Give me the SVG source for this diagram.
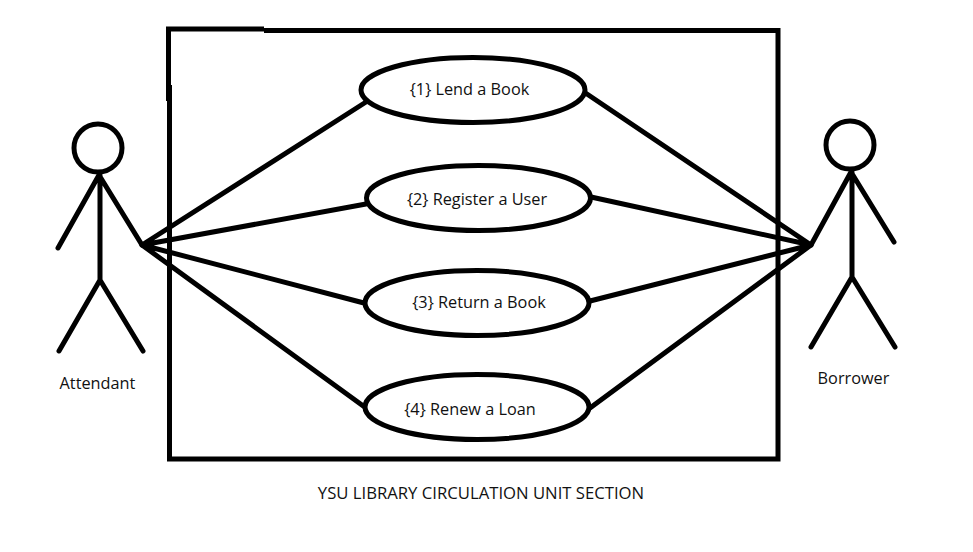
<svg xmlns="http://www.w3.org/2000/svg" width="973" height="552" viewBox="0 0 973 552">
<style>
.s{fill:none;stroke:#000;stroke-width:5}
.r{stroke-linecap:round}
.e{fill:#fff;stroke:#000;stroke-width:5}
text{font-family:"Open Sans","Liberation Sans",sans-serif;font-size:16.300px;fill:#111;text-anchor:middle}
#caption{font-size:16.700px}
</style>
<rect width="973" height="552" fill="#fff"/>
<g id="frame">
<path class="s" d="M168.500 101V29H264"/>
<path class="s" d="M264 30.500H778V459H169.500V85"/>
</g>
<g id="connectors">
<path class="s r" d="M142 245L366 102M142 245L366 204M142 245L364 303M142 245L366 408"/>
<path class="s r" d="M811 245L584 92M811 245L591 197M811 245L590 301M811 245L590 408"/>
</g>
<g id="attendant">
<circle class="s" cx="98" cy="148" r="24"/>
<path class="s r" d="M100 175V280M99 175L58 248M99 175L142 245M100 280L59 351M100 280L143 351"/>
<text x="97.500" y="389">Attendant</text>
</g>
<g id="borrower">
<circle class="s" cx="850" cy="145" r="24"/>
<path class="s r" d="M852 172V277M851 172L811 245M851 172L894 242M852 277L811 347M852 277L895 347"/>
<text x="853.500" y="384">Borrower</text>
</g>
<g id="uc1"><ellipse class="e" cx="473" cy="90" rx="112" ry="32.500"/><text x="469.500" y="95">{1} Lend a Book</text></g>
<g id="uc2"><ellipse class="e" cx="478.500" cy="198" rx="112" ry="32.500"/><text x="477" y="205">{2} Register a User</text></g>
<g id="uc3"><ellipse class="e" cx="477" cy="303" rx="112" ry="32.500"/><text x="479" y="308">{3} Return a Book</text></g>
<g id="uc4"><ellipse class="e" cx="477" cy="407" rx="112" ry="32.500"/><text x="470" y="415">{4} Renew a Loan</text></g>
<text id="caption" x="481" y="499">YSU LIBRARY CIRCULATION UNIT SECTION</text>
</svg>
